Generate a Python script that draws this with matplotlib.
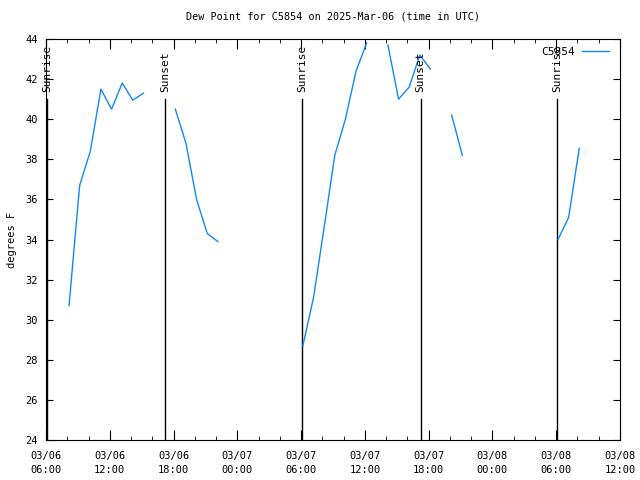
import matplotlib
matplotlib.use("Agg")
import matplotlib.pyplot as plt
import matplotlib.dates as mdates
import numpy as np
from datetime import datetime

# dew point readings (F), None = no report
times = ["2025-03-06 08:10", "2025-03-06 09:10", "2025-03-06 10:10", "2025-03-06 11:10",
         "2025-03-06 12:10", "2025-03-06 13:10", "2025-03-06 14:10", "2025-03-06 15:10",
         "2025-03-06 16:10", "2025-03-06 17:10",
         "2025-03-06 18:10", "2025-03-06 19:10", "2025-03-06 20:10", "2025-03-06 21:10",
         "2025-03-06 22:10", "2025-03-06 23:10",
         "2025-03-07 06:10", "2025-03-07 07:10", "2025-03-07 08:10", "2025-03-07 09:10",
         "2025-03-07 10:10", "2025-03-07 11:10", "2025-03-07 12:10", "2025-03-07 13:10",
         "2025-03-07 14:10", "2025-03-07 15:10", "2025-03-07 16:10", "2025-03-07 17:10",
         "2025-03-07 18:10", "2025-03-07 19:10", "2025-03-07 20:10", "2025-03-07 21:10",
         "2025-03-07 22:10",
         "2025-03-08 06:10", "2025-03-08 07:10", "2025-03-08 08:10"]
dewpt = [30.7, 36.7, 38.4, 41.5, 40.5, 41.8, 40.95, 41.3,
         None, None,
         40.5, 38.8, 36.0, 34.3, 33.9, None,
         28.7, 31.1, 34.6, 38.2, 40.0, 42.4, 43.8, None,
         43.7, 41.0, 41.6, 43.2, 42.5, None, 40.2, 38.2,
         None,
         34.0, 35.1, 38.55]

sun_times = ["2025-03-06 06:06", "2025-03-06 17:13", "2025-03-07 06:05",
             "2025-03-07 17:15", "2025-03-08 06:04"]
sun_labels = ["Sunrise", "Sunset", "Sunrise", "Sunset", "Sunrise"]

x = [datetime.strptime(t, "%Y-%m-%d %H:%M") for t in times]
y = np.array([np.nan if v is None else v for v in dewpt])

plt.rcParams['font.family'] = ['DejaVu Sans Mono']
plt.rcParams['font.size'] = 7.5

fig = plt.figure(figsize=(6.4, 4.8), dpi=100)
ax = fig.add_axes([46/640, 1 - 440/480, 574/640, 401/480])

for t, lab in zip(sun_times, sun_labels):
    d = datetime.strptime(t, "%Y-%m-%d %H:%M")
    ax.plot([d, d], [24, 41], color='black', lw=1)
    ax.text(d, 41.35, lab, rotation=90, ha='center', va='bottom', fontsize=8)

ax.plot(x, y, color='#1288ff', lw=1, label='C5854')

ax.set_xlim(datetime(2025, 3, 6, 6), datetime(2025, 3, 8, 12))
ax.set_ylim(24, 44)
ax.set_yticks(np.arange(24, 45, 2))
ax.xaxis.set_major_locator(mdates.HourLocator(byhour=[0, 6, 12, 18]))
ax.xaxis.set_minor_locator(mdates.HourLocator(interval=2))
ax.xaxis.set_major_formatter(mdates.DateFormatter("%m/%d\n%H:%M"))
ax.tick_params(which='both', direction='in', top=True, right=True)
ax.tick_params(axis='x', which='major', length=7, pad=8)
ax.tick_params(axis='y', which='major', length=5, pad=6)
ax.tick_params(which='minor', length=3)
for lab in ax.get_xticklabels():
    lab.set_linespacing(1.5)

ax.set_title("Dew Point for C5854 on 2025-Mar-06 (time in UTC)", fontsize=7.3, pad=14)
ax.set_ylabel("degrees F", labelpad=6)
ax.legend(loc='upper right', frameon=False, markerfirst=False, handlelength=2.5,
          handletextpad=0.6, fontsize=8, borderaxespad=0.3,
          bbox_to_anchor=(0.995, 1.0))

fig.savefig("out.png", dpi=100)
